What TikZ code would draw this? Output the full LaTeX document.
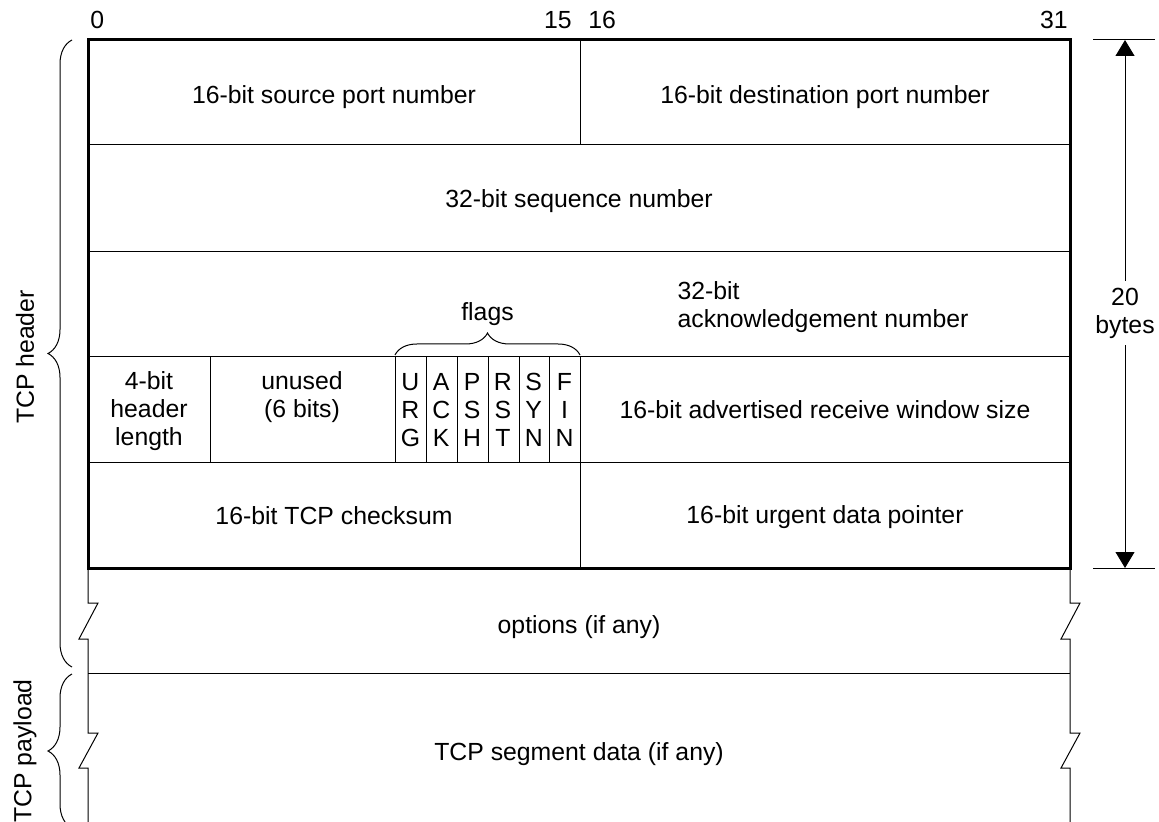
\documentclass[tikz,border=0pt]{standalone}
\usepackage{fontspec}
\setmainfont{Liberation Sans}
\usetikzlibrary{arrows.meta,decorations.pathreplacing}

\begin{document}
\begin{tikzpicture}[x=0.5pt,y=-0.5pt,
		every node/.style={font=\fontsize{12.4}{14}\selectfont},
		lbl/.style={align=center},
		bitnum/.style={inner sep=0pt},
		thinline/.style={line width=0.5pt},
		frame/.style={line width=1.5pt},
		brc/.style={decorate,decoration={brace,amplitude=#1},line width=0.5pt},
		dim/.style={-{Triangle[width=9.5pt,length=8pt]},line width=0.5pt}
	]
	\useasboundingbox (0,0) rectangle (1159,822);
	% bit positions
	\node[bitnum,anchor=west] (bit0) at (90,20) {0};
	\node[bitnum,anchor=east] (bit15) at (572,20) {15};
	\node[bitnum,anchor=west] (bit16) at (588,20) {16};
	\node[bitnum,anchor=east] (bit31) at (1068,20) {31};
	% header grid
	\draw[thinline] (88,145) -- (1070,145) (88,252) -- (1070,252)
		(88,357) -- (1070,357) (88,463) -- (1070,463);
	\draw[thinline] (580,40) -- (580,145) (580,357) -- (580,568) (210,357) -- (210,463);
	\foreach \x in {395,426,457,488,519,549}
		\draw[thinline] (\x,357) -- (\x,463);
	\draw[frame] (88,40) rectangle (1070,568);
	% options and payload, cut on both sides
	\draw[thinline] (88,673) -- (1070,673);
	\foreach \x in {88,1070}
		\draw[thinline] (\x,568) -- (\x,603) -- ++(10,0) -- ++(-19,36) -- ++(9,0)
			-- (\x,733) -- ++(10,0) -- ++(-19,35) -- ++(9,0) -- (\x,822);
	% field texts
	\node[lbl] (srcport) at (334,97) {16-bit source port number};
	\node[lbl] (dstport) at (825,97) {16-bit destination port number};
	\node[lbl] (seqnum) at (579,201) {32-bit sequence number};
	\node[align=left] (acknum) at (823,307) {32-bit\\acknowledgement number};
	\node[lbl] (hdrlen) at (149,411) {4-bit\\header\\length};
	\node[lbl] (unused) at (302,397) {unused\\(6 bits)};
	\foreach \a/\b/\c [count=\i from 0] in {U/R/G,A/C/K,P/S/H,R/S/T,S/Y/N,F/I/N}
		\node[lbl,inner sep=1pt] (flag\i) at (395+30.83*\i+15.4,410) {\a\\\b\\\c};
	\node[lbl] (window) at (825,410) {16-bit advertised receive window size};
	\node[lbl] (chksum) at (334,516) {16-bit TCP checksum};
	\node[lbl] (urgptr) at (825,517) {16-bit urgent data pointer};
	\node[lbl] (options) at (579,627) {options (if any)};
	\node[lbl] (data) at (579,754) {TCP segment data (if any)};
	% flags brace
	\draw[brc=11pt] (395,355) -- (580,355);
	\node (flags) at (487.5,314) {flags};
	% header and payload braces
	\draw[brc=12pt] (72,667) -- (72,40);
	\draw[brc=12pt] (72,828) -- (72,674);
	\node[rotate=90] (hdrlbl) at (25,357) {TCP header};
	\node[rotate=90] (paylbl) at (25,751) {TCP payload};
	% header size
	\draw[thinline] (1093,40) -- (1155,40) (1093,568) -- (1155,568);
	\coordinate (sztop) at (1125,40);
	\coordinate (szbot) at (1125,568);
	\node[lbl] (bytes) at (1125,313) {20\\bytes};
	\draw[dim] (bytes) -- (sztop);
	\draw[dim] (bytes) -- (szbot);
\end{tikzpicture}
\end{document}
